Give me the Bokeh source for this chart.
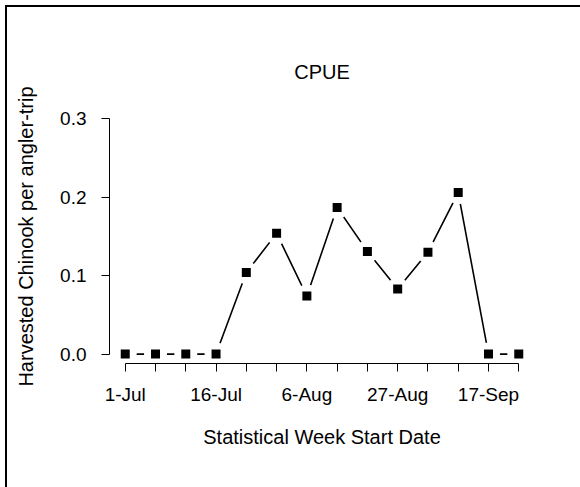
from bokeh.plotting import figure
from bokeh.models import FixedTicker, NumeralTickFormatter, Range1d
from bokeh.embed import file_html
from bokeh.resources import INLINE

# ---- data ----
weeks = ["1-Jul", "2-Jul", "9-Jul", "16-Jul", "23-Jul", "30-Jul", "6-Aug",
         "13-Aug", "20-Aug", "27-Aug", "3-Sep", "10-Sep", "17-Sep", "24-Sep"]
cpue = [0.0, 0.0, 0.0, 0.0, 0.104, 0.154, 0.074, 0.187, 0.131, 0.083,
        0.130, 0.206, 0.0, 0.0]
y_ticks = [0.0, 0.1, 0.2, 0.3]
label_every = 3

x = list(range(len(weeks)))
FONT = "Liberation Sans"

p = figure(width=573, height=480, output_backend="svg", toolbar_location=None,
           x_range=Range1d(-0.52, len(weeks) - 1 + 0.52),
           y_range=Range1d(-0.012, 0.312),
           min_border_left=102, min_border_right=46,
           min_border_top=102, min_border_bottom=124,
           title="CPUE")
# frame-like border on the top and left edges of the picture only
p.styles = {"margin-left": "7px", "margin-top": "7px",
            "box-shadow": "-1px -1px 0 1px #000"}

p.outline_line_color = None
p.grid.visible = False
p.background_fill_color = "white"
p.border_fill_color = "white"

p.title.align = "center"
p.title.text_font = FONT
p.title.text_font_size = "20px"
p.title.text_font_style = "normal"
p.title.text_color = "#000000"
p.title.standoff = 53

# line with gaps around points (R type="b" look)
p.line(x, cpue, line_color="black", line_width=1.6)
p.scatter(x, cpue, marker="circle", size=23, fill_color="white", line_color=None)
p.scatter(x, cpue, marker="square", size=9, fill_color="black", line_color=None)

# axes
xa = p.xaxis[0]
xa.ticker = FixedTicker(ticks=x)
xa.major_label_overrides = {i: (weeks[i] if i % label_every == 0 else "") for i in x}
xa.bounds = (0, len(weeks) - 1)
xa.axis_label = "Statistical Week Start Date"

ya = p.yaxis[0]
ya.ticker = FixedTicker(ticks=y_ticks)
ya.formatter = NumeralTickFormatter(format="0.0")
ya.bounds = (y_ticks[0], y_ticks[-1])
ya.axis_label = "Harvested Chinook per angler-trip"

for ax in (xa, ya):
    ax.axis_line_color = "black"
    ax.axis_line_width = 1
    ax.major_tick_line_color = "black"
    ax.major_tick_in = 0
    ax.major_tick_out = 8
    ax.minor_tick_line_color = None
    ax.major_label_text_color = "#000000"
    ax.major_label_text_font = FONT
    ax.major_label_text_font_size = "19px"
    ax.axis_label_text_font = FONT
    ax.axis_label_text_font_size = "20px"
    ax.axis_label_text_font_style = "normal"
    ax.axis_label_text_color = "#000000"

xa.major_label_standoff = 12
xa.axis_label_standoff = 18
ya.major_label_standoff = 15
ya.axis_label_standoff = 20

open("out.html", "w").write(file_html(p, INLINE))
